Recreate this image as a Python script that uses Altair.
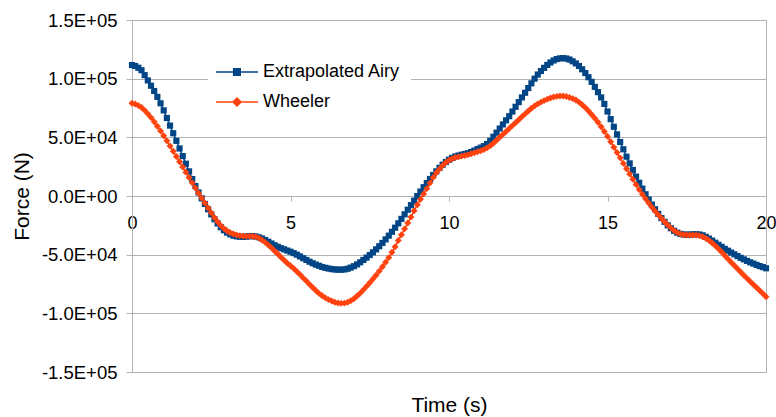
import altair as alt
import pandas as pd

# time samples (s)
time_s = [round(i * 0.1, 1) for i in range(201)]

# Extrapolated Airy force, in kN
airy_kN = [
    111.6, 110.8, 109.3, 107.2, 103.0, 98.5, 94.0, 89.5, 84.5, 79.0,
    73.0, 66.5, 60.0, 53.5, 47.0, 40.5, 34.0, 27.5, 21.0, 14.5,
    8.5, 3.0, -2.0, -6.8, -11.3, -15.7, -19.8, -23.4, -26.6, -29.2,
    -31.2, -32.7, -33.8, -34.4, -34.7, -34.8, -34.6, -34.3, -34.2, -34.5,
    -35.2, -36.2, -37.5, -39.0, -40.5, -42.0, -43.3, -44.5, -45.5, -46.5,
    -47.5, -48.7, -50.0, -51.5, -53.0, -54.5, -56.0, -57.3, -58.5, -59.5,
    -60.5, -61.2, -61.8, -62.3, -62.6, -62.8, -62.8, -62.6, -62.0, -61.0,
    -59.8, -58.3, -56.5, -54.5, -52.5, -50.3, -48.0, -45.5, -42.8, -40.0,
    -37.0, -33.8, -30.5, -27.0, -23.3, -19.5, -15.6, -11.7, -7.8, -4.0,
    0.0, 3.8, 7.5, 11.0, 14.5, 17.9, 21.0, 24.0, 26.7, 29.0,
    31.0, 32.5, 33.7, 34.5, 35.2, 35.8, 36.5, 37.5, 38.7, 40.0,
    41.2, 42.5, 44.3, 47.0, 50.5, 54.0, 57.5, 61.0, 64.5, 68.0,
    72.0, 76.0, 80.0, 84.0, 88.0, 92.0, 96.0, 100.0, 103.5, 106.5,
    109.2, 111.7, 113.8, 115.5, 116.7, 117.3, 117.5, 117.2, 116.3, 114.8,
    113.0, 110.8, 108.0, 104.8, 101.2, 97.3, 93.0, 88.5, 84.0, 78.5,
    72.0, 65.5, 59.0, 52.5, 46.0, 39.8, 33.5, 27.8, 22.2, 16.5,
    11.3, 6.3, 1.5, -3.0, -7.3, -11.3, -15.2, -18.8, -22.0, -25.0,
    -27.5, -29.7, -31.3, -32.3, -32.8, -33.0, -32.9, -32.7, -32.6, -32.8,
    -33.5, -34.8, -36.3, -38.0, -39.8, -41.6, -43.3, -45.0, -46.6, -48.2,
    -49.7, -51.2, -52.7, -54.0, -55.3, -56.5, -57.6, -58.7, -59.7, -60.6,
    -61.6,
]

# Wheeler force, in kN
wheeler_kN = [
    79.0, 78.4, 77.2, 75.4, 73.0, 70.0, 66.8, 63.3, 59.5, 55.5,
    51.3, 47.0, 42.6, 38.2, 33.7, 29.2, 24.7, 20.2, 15.7, 11.2,
    6.8, 2.4, -1.8, -6.0, -10.2, -14.3, -18.3, -22.0, -25.2, -27.8,
    -29.8, -31.3, -32.4, -33.2, -33.8, -34.2, -34.3, -34.2, -34.3, -34.8,
    -35.8, -37.5, -39.5, -41.8, -44.2, -46.8, -49.5, -52.2, -54.8, -57.3,
    -59.5, -61.8, -64.3, -67.0, -69.8, -72.5, -75.3, -78.0, -80.6, -83.0,
    -85.0, -86.8, -88.3, -89.5, -90.5, -91.2, -91.5, -91.3, -90.5, -89.2,
    -87.5, -85.3, -82.8, -80.0, -77.0, -74.0, -70.8, -67.5, -64.0, -60.3,
    -56.5, -52.5, -48.0, -43.2, -38.0, -33.0, -28.0, -23.0, -18.0, -12.5,
    -7.5, -2.8, 1.8, 6.3, 11.0, 15.8, 19.8, 23.0, 26.0, 28.5,
    30.5, 31.8, 32.8, 33.5, 34.0, 34.5, 35.2, 36.0, 36.8, 37.7,
    38.6, 39.6, 41.0, 42.8, 45.0, 47.5, 50.0, 52.5, 55.0, 57.5,
    60.0, 62.5, 65.0, 67.5, 70.0, 72.5, 74.8, 76.8, 78.5, 80.0,
    81.3, 82.5, 83.5, 84.3, 84.9, 85.2, 85.2, 84.8, 84.0, 83.0,
    81.8, 80.0, 77.8, 75.3, 72.5, 69.5, 66.3, 62.8, 59.0, 55.0,
    50.8, 46.3, 41.5, 37.0, 32.5, 27.8, 23.3, 18.8, 14.3, 9.8,
    5.5, 1.5, -2.3, -6.0, -9.5, -12.8, -16.0, -19.0, -22.0, -24.8,
    -27.3, -29.5, -31.2, -32.3, -33.0, -33.3, -33.3, -33.2, -33.3, -33.8,
    -34.7, -36.0, -37.8, -40.0, -42.4, -45.0, -47.8, -50.7, -53.6, -56.4,
    -59.2, -62.0, -64.8, -67.5, -70.2, -72.8, -75.4, -78.0, -80.6, -83.2,
    -85.8,
]

series_names = ["Extrapolated Airy", "Wheeler"]
series_colors = ["#004586", "#ff420e"]
y_ticks = [-150000, -100000, -50000, 0, 50000, 100000, 150000]
x_ticks = [0, 5, 10, 15, 20]

rows = []
for name, vals in zip(series_names, [airy_kN, wheeler_kN]):
    for t, v in zip(time_s, vals):
        rows.append({"t": t, "force": v * 1000.0, "series": name})
df = pd.DataFrame(rows)

GRID = "#b3b3b3"
FONT = "Liberation Sans"

x_enc = alt.X(
    "t:Q",
    scale=alt.Scale(domain=[0, 20], nice=False),
    axis=alt.Axis(
        values=x_ticks, offset=-176, domain=False, grid=False,
        tickSize=5, labelPadding=13, labelFlush=False, labelOverlap=False,
        format="d", labelFontSize=18,
        title="Time (s)", titleX=317, titleY=215, titleAlign="center",
        titleBaseline="alphabetic", titleFontSize=21,
    ),
)
y_enc = alt.Y(
    "force:Q",
    scale=alt.Scale(domain=[-150000, 150000], nice=False),
    axis=alt.Axis(
        values=y_ticks, tickSize=6, labelPadding=9, labelFontSize=18.5,
        labelExpr="replace(replace(replace(format(datum.value, '.1e'), 'e+', 'E+0'), 'e-', 'E-0'), '\u2212', '-')",
        title="Force (N)", titleX=-104, titleY=176, titleAngle=270,
        titleAlign="center", titleBaseline="alphabetic", titleFontSize=21,
    ),
)

# legend symbols: short line with the series marker in the middle
sq_path = "M-4.79,0H4.79M-0.74,-0.74H0.74V0.74H-0.74Z"
dm_path = "M-4.79,0H4.79M0,-0.92L0.92,0L0,0.92L-0.92,0Z"

common_leg = dict(
    title=None, orient="none", labelFont=FONT, labelFontSize=18,
    labelColor="black", labelOffset=17, symbolOffset=10,
    symbolSize=77, symbolStrokeWidth=1.5,
)
legends = [
    alt.Legend(legendX=76, legendY=33, padding=10, fillColor="white",
               symbolType=sq_path, **common_leg),
    alt.Legend(legendX=86, legendY=73, padding=0, symbolType=dm_path, **common_leg),
]
marker_shapes = ["square", "diamond"]
marker_sizes = [38, 48]

base = alt.Chart(df)
series_layers = []
for i, name in enumerate(series_names):
    sub = base.transform_filter(alt.datum.series == name)
    col = alt.Color("series:N", scale=alt.Scale(domain=[name], range=[series_colors[i]]),
                    legend=legends[i])
    ln = sub.mark_line(strokeWidth=1.5).encode(x=x_enc, y=y_enc, color=col)
    pt = sub.mark_point(shape=marker_shapes[i], filled=True, opacity=1,
                        size=marker_sizes[i]).encode(x=x_enc, y=y_enc, color=col)
    series_layers.append(alt.layer(ln, pt))

chart = (
    alt.layer(*series_layers)
    .resolve_scale(color="independent")
    .properties(
        width=634, height=352,
        autosize=alt.AutoSizeParams(type="none"),
        padding={"left": 132, "top": 20, "right": 10, "bottom": 45},
        background="white",
    )
    .configure_view(stroke=GRID, strokeWidth=1)
    .configure_axis(
        labelFont=FONT, titleFont=FONT, labelColor="black", titleColor="black",
        titleFontWeight="normal", gridColor=GRID, domainColor=GRID, tickColor=GRID,
        gridWidth=1, domainWidth=1, tickWidth=1,
    )
)

chart.save("out.html", embed_options={"renderer": "svg", "actions": False})
